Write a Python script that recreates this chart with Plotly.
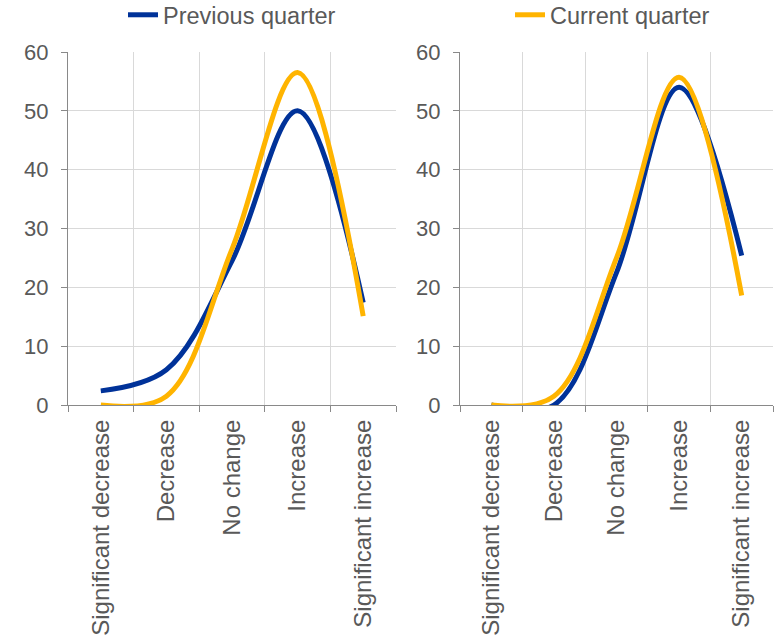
import plotly.graph_objects as go
from plotly.subplots import make_subplots

categories = ["Significant decrease", "Decrease", "No change", "Increase", "Significant increase"]
left_previous = [2.4, 6.0, 24.5, 50.0, 17.4]
left_current = [0.0, 1.5, 26.5, 56.5, 15.1]
right_previous = [0.0, 0.0, 22.5, 54.0, 25.4]
right_current = [0.0, 1.5, 25.0, 55.7, 18.6]
y_ticks = [0, 10, 20, 30, 40, 50, 60]

BLUE = "#003299"
YELLOW = "#FFB400"
FONT = "Liberation Sans, Arial, sans-serif"
TXT = "#595959"

fig = make_subplots(rows=1, cols=2, horizontal_spacing=0.0)

for col, (prev, curr) in enumerate([(left_previous, left_current), (right_previous, right_current)], start=1):
    fig.add_trace(go.Scatter(x=categories, y=prev, mode="lines", name="Previous quarter",
                             line=dict(color=BLUE, width=5, shape="spline", smoothing=1),
                             showlegend=(col == 1), legend="legend"), row=1, col=col)
    fig.add_trace(go.Scatter(x=categories, y=curr, mode="lines", name="Current quarter",
                             line=dict(color=YELLOW, width=5, shape="spline", smoothing=1),
                             showlegend=(col == 1), legend="legend2"), row=1, col=col)

W = 705.0
H = 353.0
legend_common = dict(orientation="h", yanchor="top", y=1 + 59 / H, xanchor="left",
                     font=dict(size=23.5, color=TXT, family=FONT), bgcolor="rgba(0,0,0,0)")
fig.update_layout(
    width=779, height=639,
    margin=dict(l=68, r=6, t=52, b=234, autoexpand=False),
    paper_bgcolor="white", plot_bgcolor="white",
    font=dict(family=FONT, color=TXT, size=22),
    legend=dict(x=(123 - 68) / W, **legend_common),
    legend2=dict(x=(510 - 68) / W, **legend_common),
    xaxis=dict(domain=[0, (396 - 68) / W]),
    xaxis2=dict(domain=[(460 - 68) / W, 1]),
)

fig.update_xaxes(type="category", categoryorder="array", categoryarray=categories,
                 range=[-0.5, 4.5], tickson="boundaries", showgrid=True, gridcolor="#d9d9d9",
                 gridwidth=1, ticks="outside", ticklen=6, tickcolor="#898989",
                 showline=True, linecolor="#898989", linewidth=1, tickangle=-90,
                 ticklabelstandoff=4,
                 tickfont=dict(size=24, color=TXT, family=FONT), zeroline=False)
fig.update_yaxes(range=[0, 60], tickvals=y_ticks, showgrid=True, gridcolor="#d9d9d9", gridwidth=1,
                 ticks="outside", ticklen=6, tickcolor="#898989", showline=True,
                 linecolor="#898989", linewidth=1, zeroline=False, ticklabelstandoff=8,
                 tickfont=dict(size=22, color=TXT, family=FONT))

fig.write_html("out.html", config={"displayModeBar": False},
               post_script="document.body.style.margin='0';document.body.style.padding='0';")
